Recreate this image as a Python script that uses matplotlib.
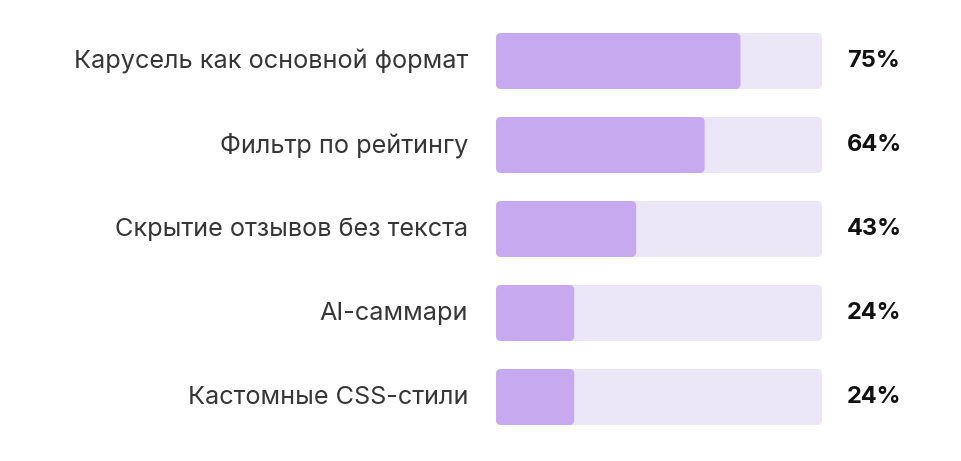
import matplotlib
matplotlib.use("Agg")
import matplotlib.pyplot as plt
from matplotlib.patches import FancyBboxPatch

categories = ["Карусель как основной формат", "Фильтр по рейтингу",
              "Скрытие отзывов без текста", "AI-саммари", "Кастомные CSS-стили"]
values = [75, 64, 43, 24, 24]
value_labels = ["75%", "64%", "43%", "24%", "24%"]

plt.rcParams['font.family'] = ['Inter', 'DejaVu Sans']

W, H = 961, 461
fig = plt.figure(figsize=(W / 100, H / 100), dpi=100)
fig.patch.set_facecolor("white")
left_px, right_px, top_px, bot_px = 496, 822, 19, 439
ax = fig.add_axes([left_px / W, 1 - bot_px / H, (right_px - left_px) / W, (bot_px - top_px) / H])
ax.set_xlim(0, 100)
ax.set_ylim(len(categories) - 0.5, -0.5)
ax.axis("off")

xpx = (right_px - left_px) / 100.0
ypx = (bot_px - top_px) / len(categories)
r_px = 5
bh = 56 / ypx
aspect = (1 / ypx) / (1 / xpx)

track_color = "#ECE7F7"
fill_color = "#C6A9EF"

for i, (cat, v, lab) in enumerate(zip(categories, values, value_labels)):
    ax.add_patch(FancyBboxPatch((0, i - bh / 2), 100, bh,
                                boxstyle=f"round,pad=0,rounding_size={r_px / xpx}",
                                mutation_aspect=aspect, fc=track_color, ec="none"))
    ax.add_patch(FancyBboxPatch((0, i - bh / 2), v, bh,
                                boxstyle=f"round,pad=0,rounding_size={r_px / xpx}",
                                mutation_aspect=aspect, fc=fill_color, ec="none"))
    ax.annotate(cat, xy=(0, i), xytext=(-28 * 0.72, 0), textcoords="offset points",
                ha="right", va="center", fontsize=18.2, color="#363636")
    ax.annotate(lab, xy=(100, i), xytext=(25 * 0.72, 0), textcoords="offset points",
                ha="left", va="center", fontsize=17, fontweight="bold", color="#111111")

fig.savefig("out.png", dpi=100, facecolor="white")
